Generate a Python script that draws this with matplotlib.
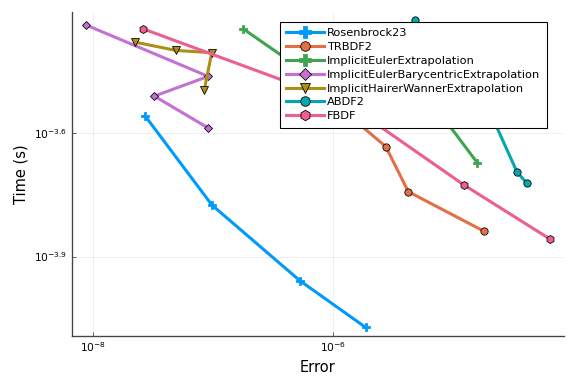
import matplotlib
matplotlib.use("Agg")
import matplotlib.pyplot as plt
from matplotlib.ticker import FixedLocator, FixedFormatter, NullLocator

# ==========================================
# DATA (error, time) per solver
# ==========================================
ROS_ERR  = [2.73e-8, 9.86e-8, 5.35e-7, 1.88e-6]
ROS_TIME = [2.767e-4, 1.679e-4, 1.099e-4, 8.47e-5]

TRB_ERR  = [9.55e-7, 2.77e-6, 4.27e-6, 1.83e-5]
TRB_TIME = [3.03e-4, 2.33e-4, 1.81e-4, 1.45e-4]

IEE_ERR  = [1.80e-7, 1.05e-6, 6.46e-6, 1.60e-5]
IEE_TIME = [4.50e-4, 3.15e-4, 3.03e-4, 2.13e-4]

IEB_ERR  = [8.79e-9, 9.18e-8, 3.26e-8, 9.08e-8]
IEB_TIME = [4.60e-4, 3.45e-4, 3.09e-4, 2.59e-4]

IHW_ERR  = [2.25e-8, 4.94e-8, 9.82e-8, 8.51e-8]
IHW_TIME = [4.18e-4, 3.99e-4, 3.94e-4, 3.20e-4]

ABD_ERR  = [4.85e-6, 1.69e-5, 3.44e-5, 4.14e-5]
ABD_TIME = [4.74e-4, 3.20e-4, 2.02e-4, 1.90e-4]

FBD_ERR  = [2.64e-8, 1.35e-6, 1.24e-5, 6.43e-5]
FBD_TIME = [4.50e-4, 2.95e-4, 1.88e-4, 1.39e-4]

LABELS = ["Rosenbrock23", "TRBDF2", "ImplicitEulerExtrapolation",
          "ImplicitEulerBarycentricExtrapolation",
          "ImplicitHairerWannerExtrapolation", "ABDF2", "FBDF"]

Y_TICKS  = [10 ** -3.9, 10 ** -3.6]
Y_LABELS = [r"$10^{-3.9}$", r"$10^{-3.6}$"]
X_TICKS  = [1e-8, 1e-6]
X_LABELS = [r"$10^{-8}$", r"$10^{-6}$"]

# ==========================================
# STYLE
# ==========================================
COLORS  = ["#009AFA", "#E36F47", "#3EA44E", "#C371D2", "#AC8E18", "#00A9AD", "#ED5E93"]
MARKERS = ["P", "o", "P", "D", "v", "o", "h"]
MSIZES  = [6.5, 5.5, 6.5, 4.5, 6, 5.5, 6]


def main():
    series = [(ROS_ERR, ROS_TIME), (TRB_ERR, TRB_TIME), (IEE_ERR, IEE_TIME),
              (IEB_ERR, IEB_TIME), (IHW_ERR, IHW_TIME), (ABD_ERR, ABD_TIME),
              (FBD_ERR, FBD_TIME)]

    fig = plt.figure(figsize=(6, 4), dpi=96, facecolor="white")
    ax = fig.add_axes([0.125, 0.125, 0.854, 0.844])

    for (err, t), lab, c, m, ms in zip(series, LABELS, COLORS, MARKERS, MSIZES):
        edge = c if m == "P" else "black"
        ax.plot(err, t, color=c, linewidth=2.3, marker=m, markersize=ms,
                markerfacecolor=c, markeredgecolor=edge, markeredgewidth=0.6,
                label=lab)

    ax.set_xscale("log")
    ax.set_yscale("log")
    ax.set_xlim(6.72e-9, 8.46e-5)
    ax.set_ylim(8.07e-5, 4.95e-4)

    ax.xaxis.set_major_locator(FixedLocator(X_TICKS))
    ax.xaxis.set_major_formatter(FixedFormatter(X_LABELS))
    ax.xaxis.set_minor_locator(NullLocator())
    ax.yaxis.set_major_locator(FixedLocator(Y_TICKS))
    ax.yaxis.set_major_formatter(FixedFormatter(Y_LABELS))
    ax.yaxis.set_minor_locator(NullLocator())

    ax.grid(True, color="#000000", alpha=0.08, linewidth=0.6)
    ax.tick_params(labelsize=8, direction="in", length=3, width=0.6, colors="#444444",
                   labelcolor="black")
    for s in ["top", "right"]:
        ax.spines[s].set_visible(False)
    for s in ["left", "bottom"]:
        ax.spines[s].set_color("#444444")
        ax.spines[s].set_linewidth(1.0)

    ax.set_xlabel("Error", fontsize=11)
    ax.set_ylabel("Time (s)", fontsize=11)

    leg = ax.legend(loc="upper right", bbox_to_anchor=(0.965, 0.969),
                    borderaxespad=0, fontsize=8.5, frameon=True, fancybox=False,
                    framealpha=1.0, handlelength=3.3, handletextpad=0.3,
                    labelspacing=0.34, borderpad=0.55, markerscale=1.3)
    leg.get_frame().set_edgecolor("black")
    leg.get_frame().set_linewidth(0.8)

    fig.savefig("out.png", dpi=96, facecolor="white")
    plt.close(fig)


if __name__ == "__main__":
    main()
